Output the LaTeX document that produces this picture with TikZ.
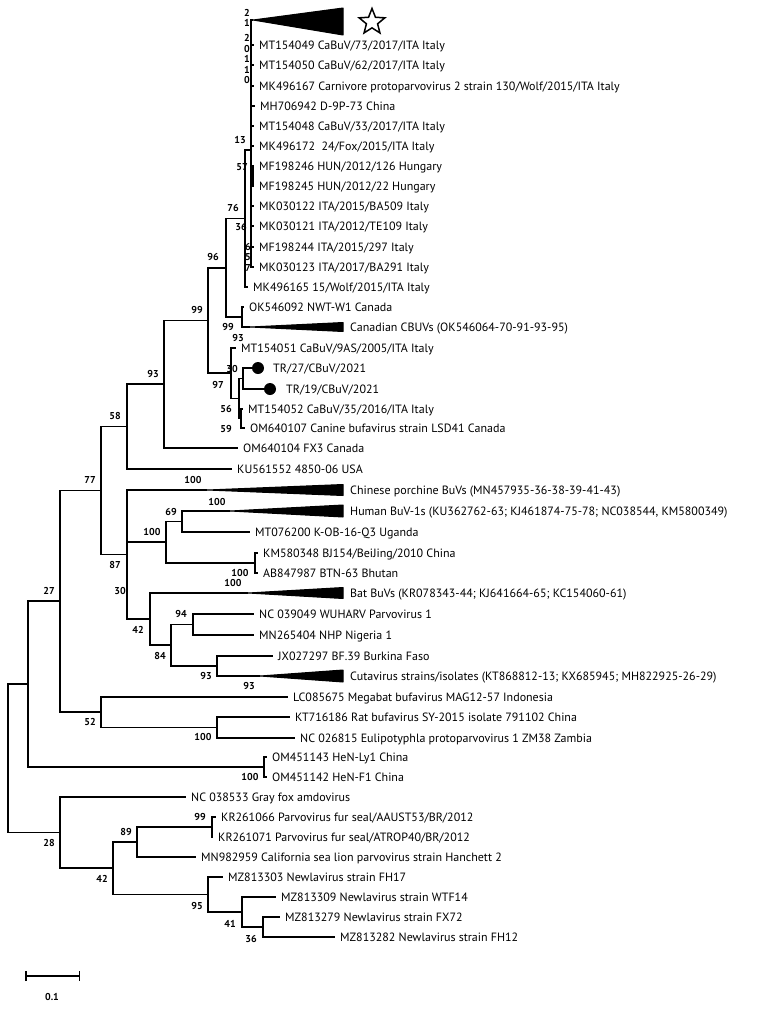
\documentclass[tikz,border=0pt]{standalone}
\usepackage{fontspec}
\setmainfont{PT Sans}
\usetikzlibrary{arrows.meta,positioning,shapes.geometric}

\begin{document}
\begin{tikzpicture}[
    x=1pt, y=-1pt,
    branch/.style={line width=1.5pt},
    leaf/.style={anchor=west, inner xsep=5pt, inner ysep=1pt, text height=8.5pt, text depth=0pt, font=\fontsize{12}{14}\selectfont},
    cladelabel/.style={leaf, inner xsep=7pt},
    clade/.style={fill=black, draw=black, line width=1pt, line join=round},
    boot/.style={inner sep=0pt, text height=7pt, text depth=0pt, font=\bfseries\fontsize{10}{12}\selectfont},
    bootstack/.style={inner sep=0pt, align=center, font=\bfseries\fontsize{10}{10.5}\selectfont},
    tipdot/.style={circle, fill=black, inner sep=0pt, minimum size=12pt},
]
\useasboundingbox (0,0) rectangle (767,1015);

% Internal nodes
\coordinate (root) at (8,758);
\coordinate (nA) at (28,684);
\coordinate (nC) at (60,601);
\coordinate (nE) at (101,490.5);
\coordinate (nH) at (127,426.5);
\coordinate (nJ) at (164,384);
\coordinate (nK) at (208,320.5);
\coordinate (nL) at (226,268);
\coordinate (nN) at (245,218.5);
\coordinate (nP) at (251,150);
\coordinate (nQ) at (253,176);
\coordinate (nO) at (242,317);
\coordinate (nM) at (231,373);
\coordinate (nT) at (239,398.5);
\coordinate (nU) at (243,378.5);
\coordinate (nV) at (241,418.5);
\coordinate (nI) at (127,554.5);
\coordinate (nX) at (166,542);
\coordinate (nY) at (182,521.5);
\coordinate (nZ) at (255,563);
\coordinate (nAA) at (150,619);
\coordinate (nAB) at (171,645);
\coordinate (nAC) at (193,624.5);
\coordinate (nAD) at (217,666);
\coordinate (nF) at (101,712);
\coordinate (nG) at (217,727.5);
\coordinate (nD) at (264,767);
\coordinate (nB) at (60,832.5);
\coordinate (nBB) at (113,868);
\coordinate (nBC) at (137,842);
\coordinate (nBD) at (212,827);
\coordinate (nBE) at (208,894.5);
\coordinate (nBF) at (242,912);
\coordinate (nBG) at (263,927);

% Collapsed clades (apex points)
\coordinate (cTop) at (253,20);
\coordinate (cCan) at (250,327);
\coordinate (cChn) at (207,490);
\coordinate (cHum) at (230,511);
\coordinate (cBat) at (248,593);
\coordinate (cCut) at (260,676);

% Italian / European CBuV cluster
\node[leaf] (mt154049) at (254,45) {MT154049 CaBuV/73/2017/ITA Italy};
\node[leaf] (mt154050) at (254,65) {MT154050 CaBuV/62/2017/ITA Italy};
\node[leaf] (mk496167) at (254,86) {MK496167 Carnivore protoparvovirus 2 strain 130/Wolf/2015/ITA Italy};
\node[leaf] (mh706942) at (255,106) {MH706942 D-9P-73 China};
\node[leaf] (mt154048) at (254,126) {MT154048 CaBuV/33/2017/ITA Italy};
\node[leaf] (mk496172) at (254,146) {MK496172\ \ 24/Fox/2015/ITA Italy};
\node[leaf] (mf198246) at (254,166) {MF198246 HUN/2012/126 Hungary};
\node[leaf] (mf198245) at (254,186) {MF198245 HUN/2012/22 Hungary};
\node[leaf] (mk030122) at (254,206) {MK030122 ITA/2015/BA509 Italy};
\node[leaf] (mk030121) at (254,226) {MK030121 ITA/2012/TE109 Italy};
\node[leaf] (mf198244) at (254,247) {MF198244 ITA/2015/297 Italy};
\node[leaf] (mk030123) at (254,267) {MK030123 ITA/2017/BA291 Italy};
\node[leaf] (mk496165) at (248,287) {MK496165 15/Wolf/2015/ITA Italy};
\node[leaf] (ok546092) at (244,307) {OK546092 NWT-W1 Canada};
\node[leaf] (mt154051) at (236,348) {MT154051 CaBuV/9AS/2005/ITA Italy};

% Turkish strains
\node[tipdot] (dot27) at (258,368) {};
\node[tipdot] (dot19) at (270,389) {};
\node[leaf] (tr27) at (268,368) {TR/27/CBuV/2021};
\node[leaf] (tr19) at (281,389) {TR/19/CBuV/2021};

\node[leaf] (mt154052) at (243,409) {MT154052 CaBuV/35/2016/ITA Italy};
\node[leaf] (om640107) at (245,428) {OM640107 Canine bufavirus strain LSD41 Canada};
\node[leaf] (om640104) at (238,448) {OM640104 FX3 Canada};
\node[leaf] (ku561552) at (232,469) {KU561552 4850-06 USA};

% Other bufaviruses
\node[leaf] (mt076200) at (250,532) {MT076200 K-OB-16-Q3 Uganda};
\node[leaf] (km580348) at (258,553) {KM580348 BJ154/BeiJing/2010 China};
\node[leaf] (ab847987) at (258,573) {AB847987 BTN-63 Bhutan};
\node[leaf] (nc039049) at (254,614) {NC 039049 WUHARV Parvovirus 1};
\node[leaf] (mn265404) at (254,635) {MN265404 NHP Nigeria 1};
\node[leaf] (jx027297) at (273,656) {JX027297 BF.39 Burkina Faso};
\node[leaf] (lc085675) at (288,697) {LC085675 Megabat bufavirus MAG12-57 Indonesia};
\node[leaf] (kt716186) at (290,717) {KT716186 Rat bufavirus SY-2015 isolate 791102 China};
\node[leaf] (nc026815) at (295,738) {NC 026815 Eulipotyphla protoparvovirus 1 ZM38 Zambia};
\node[leaf] (om451143) at (267,757) {OM451143 HeN-Ly1 China};
\node[leaf] (om451142) at (267,777) {OM451142 HeN-F1 China};

% Outgroups
\node[leaf] (nc038533) at (186,797) {NC 038533 Gray fox amdovirus};
\node[leaf] (kr261066) at (216,817) {KR261066 Parvovirus fur seal/AAUST53/BR/2012};
\node[leaf] (kr261071) at (213,837) {KR261071 Parvovirus fur seal/ATROP40/BR/2012};
\node[leaf] (mn982959) at (196,857) {MN982959 California sea lion parvovirus strain Hanchett 2};
\node[leaf] (mz813303) at (223,877) {MZ813303 Newlavirus strain FH17};
\node[leaf] (mz813309) at (276,897) {MZ813309 Newlavirus strain WTF14};
\node[leaf] (mz813279) at (280,917) {MZ813279 Newlavirus strain FX72};
\node[leaf] (mz813282) at (335,937) {MZ813282 Newlavirus strain FH12};

% Clade triangles and labels
\filldraw[clade] (cTop) -- ++(90,-12) -- ++(0,27) -- cycle;
\filldraw[clade] (cCan) -- ++(93,-4.5) -- ++(0,9) -- cycle;
\filldraw[clade] (cChn) -- ++(136,-5.5) -- ++(0,11) -- cycle;
\filldraw[clade] (cHum) -- ++(113,-6) -- ++(0,12) -- cycle;
\filldraw[clade] (cBat) -- ++(95,-5.5) -- ++(0,11) -- cycle;
\filldraw[clade] (cCut) -- ++(83,-6) -- ++(0,12) -- cycle;
\node[star, star points=5, star point ratio=2.3, draw, line width=1.5pt, fill=white, minimum size=27pt, inner sep=0pt] (star) at (372,22) {};
\node[cladelabel] (canadian) at (343,327) {Canadian CBUVs (OK546064-70-91-93-95)};
\node[cladelabel] (chinese) at (343,490) {Chinese porchine BuVs (MN457935-36-38-39-41-43)};
\node[cladelabel] (human) at (343,511) {Human BuV-1s (KU362762-63; KJ461874-75-78; NC038544, KM5800349)};
\node[cladelabel] (bat) at (343,593) {Bat BuVs (KR078343-44; KJ641664-65; KC154060-61)};
\node[cladelabel] (cuta) at (343,676) {Cutavirus strains/isolates (KT868812-13; KX685945; MH822925-26-29)};

% Branches
\draw[branch] (root) |- (nA) (root) |- (nB);
\draw[branch] (nA) |- (nC) (nA) |- (nD);
\draw[branch] (nC) |- (nE) (nC) |- (nF);
\draw[branch] (nE) |- (nH) (nE) |- (nI);
\draw[branch] (nH) |- (nJ) (nH) |- (ku561552);
\draw[branch] (nJ) |- (nK) (nJ) |- (om640104);
\draw[branch] (nK) |- (nL) (nK) |- (nM);
\draw[branch] (nL) |- (nN) (nL) |- (nO);
\draw[branch] (nN) |- (nP) (nN) |- (mk496165);
\draw[branch] (nP) |- (cTop) (nP) |- (mt154049) (nP) |- (mt154050) (nP) |- (mk496167)
    (nP) |- (mh706942) (nP) |- (mt154048) (nP) |- (mk496172) (nP) |- (nQ)
    (nP) |- (mk030122) (nP) |- (mk030121) (nP) |- (mf198244) (nP) |- (mk030123);
\draw[branch] (nQ) |- (mf198246) (nQ) |- (mf198245);
\draw[branch] (nO) |- (ok546092) (nO) |- (cCan);
\draw[branch] (nM) |- (mt154051) (nM) |- (nT);
\draw[branch] (nT) |- (nU) (nT) |- (nV);
\draw[branch] (nU) |- (dot27) (nU) |- (dot19);
\draw[branch] (nV) |- (mt154052) (nV) |- (om640107);
\draw[branch] (nI) |- (cChn) (nI) |- (nX) (nI) |- (nAA);
\draw[branch] (nX) |- (nY) (nX) |- (nZ);
\draw[branch] (nY) |- (cHum) (nY) |- (mt076200);
\draw[branch] (nZ) |- (km580348) (nZ) |- (ab847987);
\draw[branch] (nAA) |- (cBat) (nAA) |- (nAB);
\draw[branch] (nAB) |- (nAC) (nAB) |- (nAD);
\draw[branch] (nAC) |- (nc039049) (nAC) |- (mn265404);
\draw[branch] (nAD) |- (jx027297) (nAD) |- (cCut);
\draw[branch] (nF) |- (lc085675) (nF) |- (nG);
\draw[branch] (nG) |- (kt716186) (nG) |- (nc026815);
\draw[branch] (nD) |- (om451143) (nD) |- (om451142);
\draw[branch] (nB) |- (nc038533) (nB) |- (nBB);
\draw[branch] (nBB) |- (nBC) (nBB) |- (nBE);
\draw[branch] (nBC) |- (nBD) (nBC) |- (mn982959);
\draw[branch] (nBD) |- (kr261066) (nBD) |- (kr261071);
\draw[branch] (nBE) |- (mz813303) (nBE) |- (nBF);
\draw[branch] (nBF) |- (mz813309) (nBF) |- (nBG);
\draw[branch] (nBG) |- (mz813279) (nBG) |- (mz813282);

% Bootstrap values
\node[bootstack] (b21) at (247,18) {2\\1};
\node[bootstack] (b20110) at (247,59) {2\\0\\1\\1\\0};
\node[bootstack] (b657) at (248,257) {6\\5\\7};
\node[boot] (b13) at (240,140) {13};
\node[boot] (b57) at (242,167) {57};
\node[boot] (b36a) at (241,227) {36};
\node[boot] (b76) at (233,208) {76};
\node[boot] (b96) at (213,257) {96};
\node[boot] (b99a) at (228,327) {99};
\node[boot] (b93a) at (238,338) {93};
\node[boot] (b30a) at (232,369) {30};
\node[boot] (b97) at (218,385) {97};
\node[boot] (b56) at (226,409) {56};
\node[boot] (b59) at (226,429) {59};
\node[boot] (b99b) at (197,310) {99};
\node[boot] (b93b) at (153,374) {93};
\node[boot] (b58) at (115,416) {58};
\node[boot] (b77) at (90,480) {77};
\node[boot] (b27) at (49,591) {27};
\node[boot] (b100a) at (193,480) {100};
\node[boot] (b100b) at (152,532) {100};
\node[boot] (b69) at (171,512) {69};
\node[boot] (b100c) at (217,502) {100};
\node[boot] (b87) at (115,565) {87};
\node[boot] (b30b) at (120,591) {30};
\node[boot] (b100d) at (240,573) {100};
\node[boot] (b100e) at (233,583) {100};
\node[boot] (b42a) at (138,630) {42};
\node[boot] (b94) at (181,614) {94};
\node[boot] (b84) at (160,656) {84};
\node[boot] (b93c) at (206,676) {93};
\node[boot] (b93d) at (249,686) {93};
\node[boot] (b52) at (90,722) {52};
\node[boot] (b100f) at (203,737) {100};
\node[boot] (b100g) at (250,777) {100};
\node[boot] (b28) at (49,843) {28};
\node[boot] (b89) at (126,832) {89};
\node[boot] (b99c) at (200,817) {99};
\node[boot] (b42b) at (102,879) {42};
\node[boot] (b95) at (197,906) {95};
\node[boot] (b41) at (230,924) {41};
\node[boot] (b36b) at (251,939) {36};

% Scale bar
\coordinate (sbL) at (25,976);
\coordinate (sbR) at (80,976);
\draw[branch, {Bar[width=10pt]}-{Bar[width=10pt]}] (sbL) -- (sbR);
\node[boot] (sblabel) at (52,997) {0.1};

\end{tikzpicture}
\end{document}
